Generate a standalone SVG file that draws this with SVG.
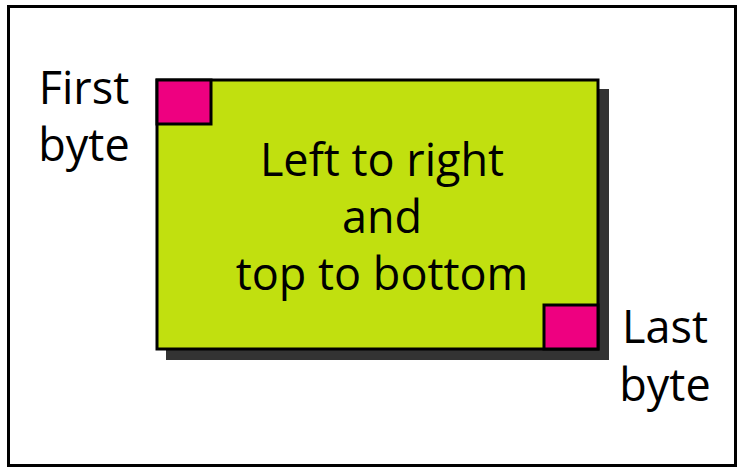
<svg xmlns="http://www.w3.org/2000/svg" width="738" height="469" viewBox="0 0 738 469">
<style>
.t{font-family:"Open Sans","Noto Sans","Liberation Sans",sans-serif;font-size:45px;fill:#000}
.k{stroke:#000;stroke-width:3}
</style>
<rect x="0" y="0" width="738" height="469" fill="#fff"/>
<rect x="8.5" y="6.5" width="727" height="459" fill="#fff" stroke="#000" stroke-width="3"/>
<g id="page">
<rect x="166" y="89" width="443" height="271" fill="#333"/>
<rect x="157" y="80" width="441" height="269" fill="#C1E00F" class="k"/>
<text class="t" x="382" y="176" text-anchor="middle">Left to right</text>
<text class="t" x="382" y="233" text-anchor="middle">and</text>
<text class="t" x="382" y="290" text-anchor="middle">top to bottom</text>
</g>
<g id="first">
<rect x="157" y="80" width="54" height="44" fill="#EE0080" class="k"/>
<text class="t" x="84" y="104" text-anchor="middle">First</text>
<text class="t" x="84" y="161" text-anchor="middle">byte</text>
</g>
<g id="last">
<rect x="544" y="305" width="54" height="44" fill="#EE0080" class="k"/>
<text class="t" x="665" y="343" text-anchor="middle">Last</text>
<text class="t" x="665" y="401" text-anchor="middle">byte</text>
</g>
<g id="connectors"/>
</svg>
